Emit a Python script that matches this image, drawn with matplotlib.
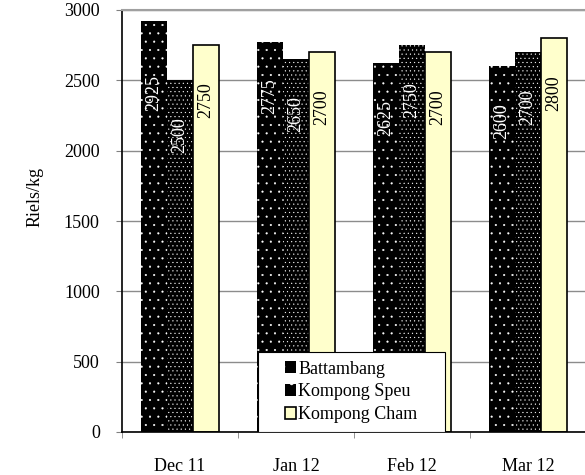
import numpy as np
import matplotlib
matplotlib.use("Agg")
import matplotlib.pyplot as plt
from matplotlib.patches import Patch, Rectangle

plt.rcParams["font.family"] = ["Liberation Serif", "DejaVu Serif"]
plt.rcParams["hatch.color"] = "white"
plt.rcParams["hatch.linewidth"] = 0.3

# Prix par province (Riels/kg)
mois = ["Dec 11", "Jan 12", "Feb 12", "Mar 12"]
provinces = ["Battambang", "Kompong Speu", "Kompong Cham"]
battambang = [2925, 2775, 2625, 2600]
kompong_speu = [2500, 2650, 2750, 2700]
kompong_cham = [2750, 2700, 2700, 2800]

series = [battambang, kompong_speu, kompong_cham]
faces = ["black", "black", "#FFFFCC"]
hatches = ["..", "....", None]
text_colors = ["white", "white", "black"]

fig = plt.figure(figsize=(5.85, 4.75), dpi=100)
ax = fig.add_axes([122 / 585, 1 - 432 / 475, 464 / 585, 422 / 475])

x = np.arange(len(mois))
w = 0.222
for i, vals in enumerate(series):
    pos = x + (i - 1) * w
    if hatches[i]:
        ax.bar(pos, vals, w, color=faces[i], hatch=hatches[i], zorder=2)
    else:
        ax.bar(pos, vals, w, color=faces[i], edgecolor="black", linewidth=1.2, zorder=2)
    # étiquettes verticales dans les barres, un peu sous le sommet
    for p, v in zip(pos, vals):
        ax.text(p, min(v, 2800) - 390, str(v), rotation=90, ha="center", va="center",
                color=text_colors[i], fontsize=13, zorder=4)

ax.set_xlim(-0.5, len(mois) - 0.5)
ax.set_ylim(0, 3000)
ax.set_yticks(range(0, 3001, 500))
ax.yaxis.grid(True, color="#8c8c8c", linewidth=1, zorder=0)
ax.set_axisbelow(True)

ax.set_xticks(x)
ax.set_xticklabels(mois)
ax.set_xticks(np.arange(-0.5, len(mois)), minor=True)
ax.tick_params(axis="x", which="major", length=0, pad=19, labelsize=13)
ax.tick_params(axis="x", which="minor", length=4, color="#808080", direction="out")
ax.tick_params(axis="y", length=4, pad=12, labelsize=13, color="#808080")

ax.spines["right"].set_visible(False)
ax.spines["top"].set_color("#a0a0a0")
ax.spines["top"].set_linewidth(1.5)
ax.spines["left"].set_linewidth(1.2)
ax.spines["bottom"].set_linewidth(1.2)

fig.text(35 / 585, 1 - 197 / 475, "Riels/kg", rotation=90, ha="center", va="center",
         fontsize=13)

# cadre de la légende
ax.add_patch(Rectangle((0.293, 0), 0.403, 0.1896, transform=ax.transAxes,
                       facecolor="white", edgecolor="black", linewidth=0.8, zorder=5))
handles = [Patch(facecolor=faces[i], edgecolor=None if hatches[i] else "black",
                 hatch=hatches[i] and ".", linewidth=1.2) for i in range(3)]
leg = ax.legend(handles, provinces, loc="center", bbox_to_anchor=(0.4946, 0.0948),
                frameon=False, fontsize=13, handlelength=0.6, handleheight=0.6,
                handletextpad=0.12, labelspacing=0.33, borderpad=0)
leg.set_zorder(6)

fig.savefig("out.png", dpi=100)
